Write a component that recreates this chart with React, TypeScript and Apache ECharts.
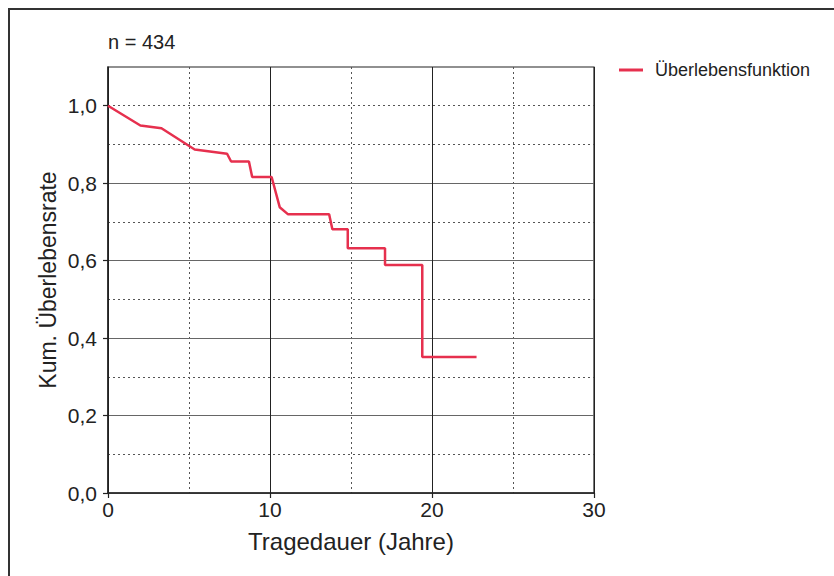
import React, { useEffect, useRef } from "react";
import * as echarts from "echarts";

// Kaplan-Meier survival curve
const timeYears = [0, 2.0, 3.3, 5.35, 7.35, 7.6, 8.7, 8.9, 10.1, 10.6, 11.1, 13.65, 13.85, 14.8, 14.8, 17.1, 17.1, 19.4, 19.4, 22.75];
const survival = [1.0, 0.949, 0.942, 0.887, 0.876, 0.856, 0.856, 0.816, 0.816, 0.738, 0.72, 0.72, 0.681, 0.681, 0.632, 0.632, 0.589, 0.589, 0.351, 0.351];

const yTickValues = [0, 0.2, 0.4, 0.6, 0.8, 1.0];
const xTickValues = [0, 10, 20, 30];
const seriesName = "Überlebensfunktion";
const sampleLabel = "n = 434";
const xAxisName = "Tragedauer (Jahre)";
const yAxisName = "Kum. Überlebensrate";

const FONT = "'Liberation Sans', Arial, sans-serif";

export default function App() {
  const ref = useRef<HTMLDivElement>(null);

  useEffect(() => {
    if (!ref.current) return;
    const chart = echarts.init(ref.current, null, { renderer: "svg" });
    const data = timeYears.map((t, i) => [t, survival[i]]);

    chart.setOption({
      animation: false,
      backgroundColor: "#ffffff",
      textStyle: { fontFamily: FONT },
      grid: {
        left: 108,
        right: 240,
        top: 67,
        bottom: 83,
        containLabel: false,
        show: true,
        borderColor: "#222",
        borderWidth: 1.2,
        backgroundColor: "transparent",
      },
      legend: {
        left: 619,
        top: 61,
        padding: 0,
        itemWidth: 24,
        itemHeight: 3,
        textStyle: { fontFamily: FONT, fontSize: 18, color: "#222", padding: [0, 0, 0, 7] },
        data: [{ name: seriesName, icon: "rect" }],
      },
      xAxis: [
        {
          type: "value",
          min: 0,
          max: 30,
          interval: 5,
          position: "bottom",
          axisLine: { show: false },
          axisTick: { show: false },
          axisLabel: { show: false },
          splitLine: {
            show: true,
            showMinLine: false,
            showMaxLine: false,
            lineStyle: { color: "#555", width: 1, type: [2, 3] },
          },
        },
        {
          type: "value",
          min: 0,
          max: 30,
          interval: 10,
          position: "bottom",
          z: 1,
          axisLine: { show: true, onZero: false, lineStyle: { color: "#222", width: 1.5 } },
          axisTick: { show: true, length: 5, customValues: xTickValues, lineStyle: { color: "#222", width: 1.2 } },
          axisLabel: {
            customValues: xTickValues,
            fontFamily: FONT,
            fontSize: 21,
            color: "#222",
            margin: 6,
          },
          splitLine: { show: true, lineStyle: { color: "#222", width: 1 } },
        },
      ],
      yAxis: [
        {
          type: "value",
          min: 0,
          max: 1.1,
          interval: 0.1,
          position: "left",
          axisLine: { show: false },
          axisTick: { show: false },
          axisLabel: { show: false },
          splitLine: {
            show: true,
            showMinLine: false,
            showMaxLine: false,
            lineStyle: { color: "#555", width: 1, type: [2, 3] },
          },
        },
        {
          type: "value",
          min: 0,
          max: 1.1,
          interval: 0.2,
          position: "left",
          z: 1,
          axisLine: { show: true, onZero: false, lineStyle: { color: "#222", width: 1.5 } },
          axisTick: { show: true, length: 5, customValues: yTickValues, lineStyle: { color: "#222", width: 1.2 } },
          axisLabel: {
            customValues: yTickValues,
            fontFamily: FONT,
            fontSize: 21,
            color: "#222",
            margin: 11,
            formatter: (v: number) => v.toFixed(1).replace(".", ","),
          },
          splitLine: {
            show: true,
            showMaxLine: false,
            lineStyle: { color: "#666", width: 1 },
          },
        },
      ],
      graphic: [
        {
          type: "rect",
          silent: true,
          shape: { x: 9, y: 9, width: 1000, height: 1000 },
          style: { fill: "none", stroke: "#333", lineWidth: 2 },
        },
        {
          type: "text",
          x: 108,
          y: 42,
          style: {
            text: sampleLabel,
            font: `20px ${FONT}`,
            fill: "#222",
            textAlign: "left",
            textVerticalAlign: "middle",
          },
        },
        {
          type: "text",
          x: 351,
          y: 541,
          style: {
            text: xAxisName,
            font: `24px ${FONT}`,
            fill: "#222",
            textAlign: "center",
            textVerticalAlign: "middle",
          },
        },
        {
          type: "text",
          x: 48,
          y: 280,
          rotation: Math.PI / 2,
          style: {
            text: yAxisName,
            font: `23px ${FONT}`,
            fill: "#222",
            textAlign: "center",
            textVerticalAlign: "middle",
          },
        },
      ],
      series: [
        {
          name: seriesName,
          type: "line",
          xAxisIndex: 1,
          yAxisIndex: 1,
          data,
          symbol: "none",
          showSymbol: false,
          z: 5,
          lineStyle: { color: "#e6304e", width: 2.5 },
          itemStyle: { color: "#e6304e" },
        },
      ],
    });

    return () => chart.dispose();
  }, []);

  return (
    <div
      ref={ref}
      style={{ position: "absolute", left: 0, top: 0, width: 834, height: 576, background: "#fff" }}
    />
  );
}
